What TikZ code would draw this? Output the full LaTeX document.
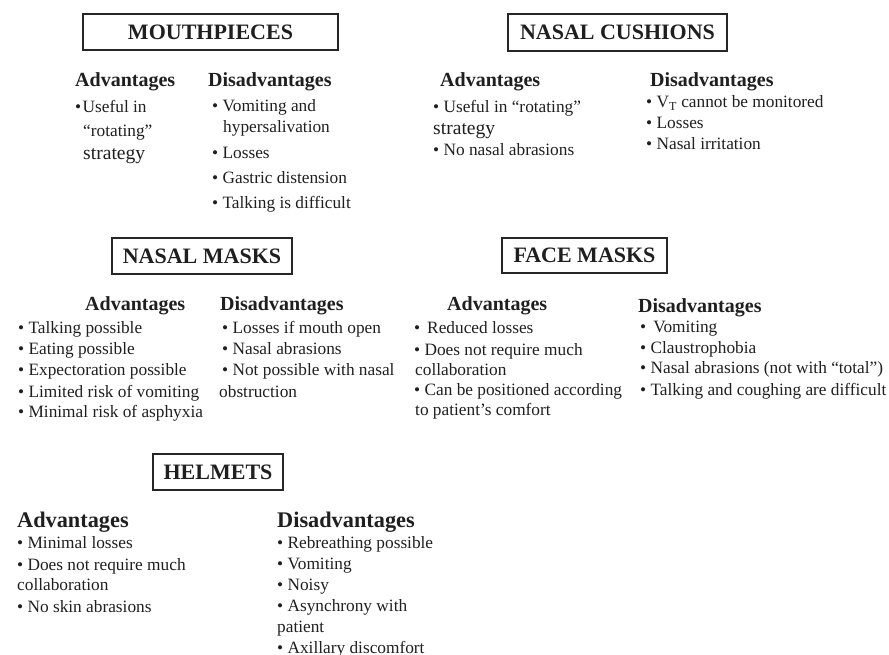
\documentclass[tikz,border=0pt]{standalone}
\usepackage{fontspec}
\setmainfont{Liberation Serif}
\newcommand\bodyfs{\fontsize{17.3}{21}\selectfont}
\newcommand\bigfs{\fontsize{19.6}{21}\selectfont}
\newcommand\mkline[4]{\node[txt] (#1) at (#2pt,-#3pt) {#4};}
\newcommand\mkhead[4]{\node[hd] (#1) at (#2pt,-#3pt) {#4};}
\tikzset{
  txt/.style={anchor=base west, inner sep=0pt, font=\bodyfs, text=black!88},
  hd/.style={anchor=base west, inner sep=0pt, font=\fontsize{20}{24}\selectfont\bfseries, text=black!88},
  hdbig/.style={hd, font=\fontsize{22.3}{26}\selectfont\bfseries},
  titlebox/.style={draw=black!85, line width=2.2pt, inner sep=0pt, font=\fontsize{22}{26}\selectfont\bfseries, text=black!88}
}
\begin{document}
\begin{tikzpicture}[x=1pt,y=1pt]
\useasboundingbox (0,0) rectangle (889,-655);
% title boxes
\node[titlebox, minimum width=255pt, minimum height=36pt] (mp) at (210.5,-32) {MOUTHPIECES};
\node[titlebox, minimum width=219pt, minimum height=37pt] (nc) at (617.5,-32.5) {NASAL CUSHIONS};
\node[titlebox, minimum width=180pt, minimum height=36pt] (nm) at (202,-256) {NASAL MASKS};
\node[titlebox, minimum width=165pt, minimum height=35pt] (fm) at (584.5,-255.5) {FACE MASKS};
\node[titlebox, minimum width=130pt, minimum height=36pt] (hm) at (218,-472) {HELMETS};
% mouthpieces
\mkhead{mpAh}{75}{87}{Advantages}
\mkline{mpA1}{75}{113}{•\hspace{1.5pt}Useful in}
\mkline{mpA2}{83}{137}{“rotating”}
\node[txt, font=\bigfs] (mpA3) at (83pt,-160pt) {strategy};
\mkhead{mpDh}{208}{87}{Disadvantages}
\mkline{mpD1}{212}{112}{• Vomiting and}
\mkline{mpD2}{223}{133}{hypersalivation}
\mkline{mpD3}{212}{159}{• Losses}
\mkline{mpD4}{212}{184}{• Gastric distension}
\mkline{mpD5}{212}{209}{• Talking is difficult}
% nasal cushions
\mkhead{ncAh}{440}{87}{Advantages}
\mkline{ncA1}{433}{113}{• Useful in “rotating”}
\node[txt, font=\bigfs] (ncA2) at (433pt,-135pt) {strategy};
\mkline{ncA3}{433}{156}{• No nasal abrasions}
\mkhead{ncDh}{650}{87}{Disadvantages}
\mkline{ncD1}{646}{108}{• V\textsubscript{T} cannot be monitored}
\mkline{ncD2}{646}{129}{• Losses}
\mkline{ncD3}{646}{150}{• Nasal irritation}
% nasal masks
\mkhead{nmAh}{85}{310}{Advantages}
\mkline{nmA1}{18}{333}{• Talking possible}
\mkline{nmA2}{18}{354}{• Eating possible}
\mkline{nmA3}{18}{375}{• Expectoration possible}
\mkline{nmA4}{18}{397}{• Limited risk of vomiting}
\mkline{nmA5}{18}{417}{• Minimal risk of asphyxia}
\mkhead{nmDh}{220}{310}{Disadvantages}
\mkline{nmD1}{222}{333}{• Losses if mouth open}
\mkline{nmD2}{222}{354}{• Nasal abrasions}
\mkline{nmD3}{222}{375}{• Not possible with nasal}
\mkline{nmD4}{219}{397}{obstruction}
% face masks
\mkhead{fmAh}{447}{310}{Advantages}
\mkline{fmA1}{414}{333}{•\hspace{7pt}Reduced losses}
\mkline{fmA2}{414}{355}{• Does not require much}
\mkline{fmA3}{415}{375}{collaboration}
\mkline{fmA4}{414}{395}{• Can be positioned according}
\mkline{fmA5}{415}{415}{to patient’s comfort}
\mkhead{fmDh}{638}{312}{Disadvantages}
\mkline{fmD1}{640}{332}{•\hspace{7pt}Vomiting}
\mkline{fmD2}{640}{353}{• Claustrophobia}
\mkline{fmD3}{640}{373}{• Nasal abrasions (not with “total”)}
\mkline{fmD4}{640}{395}{• Talking and coughing are difficult}
% helmets
\node[hdbig] (hmAh) at (17pt,-527pt) {Advantages};
\mkline{hmA1}{17}{548}{• Minimal losses}
\mkline{hmA2}{17}{570}{• Does not require much}
\mkline{hmA3}{17}{590}{collaboration}
\mkline{hmA4}{17}{612}{• No skin abrasions}
\node[hdbig] (hmDh) at (277pt,-527pt) {Disadvantages};
\mkline{hmD1}{277}{548}{• Rebreathing possible}
\mkline{hmD2}{277}{569}{• Vomiting}
\mkline{hmD3}{277}{590}{• Noisy}
\mkline{hmD4}{277}{611}{• Asynchrony with}
\mkline{hmD5}{277}{632}{patient}
\mkline{hmD6}{277}{653}{• Axillary discomfort}
\end{tikzpicture}
\end{document}
